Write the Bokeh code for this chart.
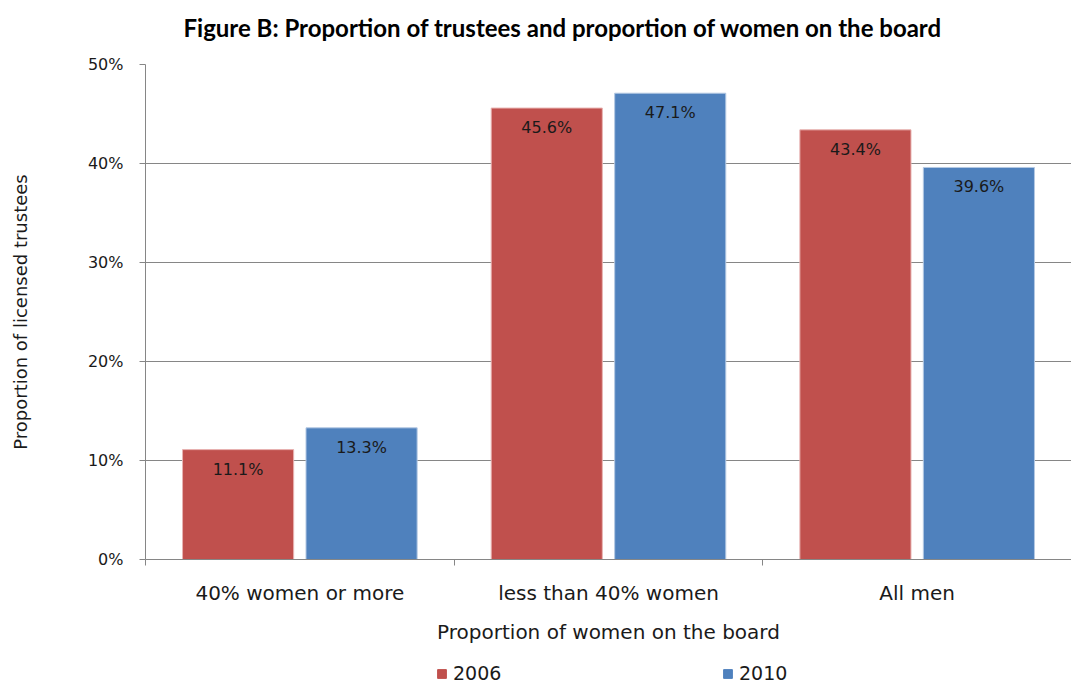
from bokeh.plotting import figure
from bokeh.models import (ColumnDataSource, FixedTicker, PrintfTickFormatter, LabelSet, Label,
                          Legend, LegendItem, Range1d)
from bokeh.layouts import column
from bokeh.core.properties import value
from bokeh.transform import dodge
from bokeh.embed import file_html
from bokeh.resources import INLINE

title_text = "Figure B: Proportion of trustees and proportion of women on the board"
categories = ["40% women or more", "less than 40% women", "All men"]
years = ["2006", "2010"]
values_2006 = [11.1, 45.6, 43.4]
values_2010 = [13.3, 47.1, 39.6]
colors = ["#C0504D", "#4F81BD"]

FONT = "DejaVu Sans"
TXT = "#1a1a1a"
W = 1071
LEFT = 145

x = [i + 0.5 for i in range(len(categories))]
src = ColumnDataSource(dict(
    x=x, v06=values_2006, v10=values_2010,
    l06=[f"{v:.1f}%" for v in values_2006],
    l10=[f"{v:.1f}%" for v in values_2010],
))

# ---- title strip (its frame is aligned with the chart's frame by the column) ----
tf = figure(width=W, height=50, output_backend="svg", toolbar_location=None,
            x_range=Range1d(LEFT, W), y_range=Range1d(0, 50),
            x_axis_type=None, y_axis_type=None, min_border=0, outline_line_color=None)
tf.xgrid.visible = False
tf.ygrid.visible = False
tf.add_layout(Label(x=183, y=23, text=title_text, text_font="Lato",
                    text_font_size="24px", text_font_style="bold", text_color="#000000",
                    text_baseline="middle", text_align="left"))

# ---- main chart ----
p = figure(frame_width=926, frame_height=495, output_backend="svg", toolbar_location=None,
           x_range=Range1d(0, 3), y_range=Range1d(0, 50),
           min_border_left=LEFT, min_border_right=0, min_border_top=14, min_border_bottom=97,
           outline_line_color=None)

off = 0.2
w = 0.36
r1 = p.vbar(x=dodge("x", -off), top="v06", width=w, source=src, fill_color=colors[0],
            line_color="#E8B3B2", line_width=1)
r2 = p.vbar(x=dodge("x", off), top="v10", width=w, source=src, fill_color=colors[1],
            line_color="#B3C8E3", line_width=1)

for col, lab, val in ((-off, "l06", "v06"), (off, "l10", "v10")):
    ls = LabelSet(x=dodge("x", col), y=val, text=lab, source=src,
                  text_align="center", text_baseline="top", y_offset=-10,
                  text_font=value(FONT), text_font_size="16px", text_color=TXT)
    p.add_layout(ls)

p.xaxis.ticker = FixedTicker(ticks=x, minor_ticks=[0, 1, 2, 3])
p.xaxis.major_label_overrides = {xx: c for xx, c in zip(x, categories)}
p.xaxis.major_tick_line_color = None
p.xaxis.major_tick_out = 6
p.xaxis.minor_tick_out = 6
p.xaxis.minor_tick_in = 0
p.xaxis.minor_tick_line_color = "#868686"
p.xaxis.axis_line_color = "#868686"
p.xaxis.major_label_text_font = FONT
p.xaxis.major_label_text_font_size = "20px"
p.xaxis.major_label_text_color = TXT
p.xaxis.major_label_standoff = 15
p.xaxis.axis_label = "Proportion of women on the board"
p.xaxis.axis_label_text_font = FONT
p.xaxis.axis_label_text_font_size = "20px"
p.xaxis.axis_label_text_font_style = "normal"
p.xaxis.axis_label_text_color = TXT
p.xaxis.axis_label_standoff = 12

p.yaxis.ticker = FixedTicker(ticks=[0, 10, 20, 30, 40, 50])
p.yaxis.formatter = PrintfTickFormatter(format="%d%%")
p.yaxis.major_tick_out = 6
p.yaxis.major_tick_in = 0
p.yaxis.minor_tick_line_color = None
p.yaxis.major_tick_line_color = "#868686"
p.yaxis.axis_line_color = "#868686"
p.yaxis.major_label_text_font = FONT
p.yaxis.major_label_text_font_size = "16px"
p.yaxis.major_label_text_color = TXT
p.yaxis.major_label_standoff = 16
p.yaxis.axis_label = "Proportion of licensed trustees"
p.yaxis.axis_label_text_font = FONT
p.yaxis.axis_label_text_font_size = "18px"
p.yaxis.axis_label_text_font_style = "normal"
p.yaxis.axis_label_text_color = TXT
p.yaxis.axis_label_standoff = 54

p.xgrid.grid_line_color = None
p.ygrid.grid_line_color = "#868686"
p.ygrid.ticker = FixedTicker(ticks=[0, 10, 20, 30, 40, 50])

# ---- legend strip ----
lf = figure(width=W, height=28, output_backend="svg", toolbar_location=None,
            x_range=Range1d(100, 101), y_range=Range1d(100, 101),
            x_axis_type=None, y_axis_type=None, min_border=0, outline_line_color=None)
lf.xgrid.visible = False
lf.ygrid.visible = False
k1 = lf.vbar(x="x", top="v06", width=w, source=src, fill_color=colors[0], line_color=colors[0])
k2 = lf.vbar(x="x", top="v10", width=w, source=src, fill_color=colors[1], line_color=colors[1])
legend = Legend(items=[LegendItem(label=years[0], renderers=[k1]),
                       LegendItem(label=years[1], renderers=[k2])],
                orientation="horizontal", location=(436 - LEFT, 0),
                label_text_font=FONT, label_text_font_size="19px", label_text_color=TXT,
                glyph_width=11, glyph_height=11, spacing=12, label_width=257,
                border_line_color=None, background_fill_alpha=0,
                padding=0, margin=0, label_standoff=6)
lf.add_layout(legend)

layout = column(tf, p, lf, spacing=0)
open("out.html", "w").write(file_html(layout, INLINE))
